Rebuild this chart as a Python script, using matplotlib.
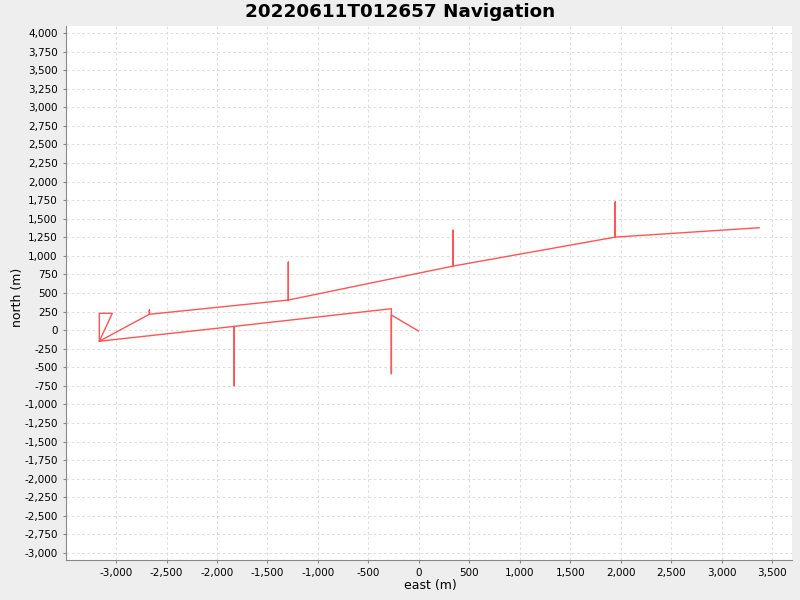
import matplotlib
matplotlib.use("Agg")
import matplotlib.pyplot as plt
from matplotlib.ticker import MultipleLocator, FuncFormatter

# track points (east, north) in metres
east = [-3, -272, -272, -272, -1829, -1829, -1829, -3166, -3166, -3037, -3166,
        -2670, -2670, -2670, -1293, -1293, -1293, 340, 340, 340,
        1946, 1946, 1946, 3372]
north = [-12, 203, -587, 288, 50, -748, 50, -150, 226, 226, -150,
         213, 270, 213, 405, 916, 405, 862, 1345, 862,
         1252, 1725, 1252, 1378]

title = "20220611T012657 Navigation"

fig = plt.figure(figsize=(8, 6), dpi=100, facecolor="#eeeeee")
ax = fig.add_axes([66 / 800, 1 - 560 / 600, (792 - 66) / 800, (560 - 26) / 600])
ax.set_facecolor("white")

ax.plot(east, north, color="#ff5555", linewidth=1.0)

ax.set_xlim(-3496, 3698)
ax.set_ylim(-3095, 4094)
ax.xaxis.set_major_locator(MultipleLocator(500))
ax.yaxis.set_major_locator(MultipleLocator(250))
fmt = FuncFormatter(lambda v, p: f"{v:,.0f}")
ax.xaxis.set_major_formatter(fmt)
ax.yaxis.set_major_formatter(fmt)

ax.grid(True, color="#dedede", linestyle=(0, (2.5, 2.5)), linewidth=0.75)
ax.set_axisbelow(True)
for s in ["top", "right"]:
    ax.spines[s].set_visible(False)
for s in ["left", "bottom"]:
    ax.spines[s].set_color("#888888")
ax.tick_params(colors="#888888", labelcolor="black", labelsize=7.5, length=2.5, width=0.8)

ax.set_xlabel("east (m)", fontsize=9)
ax.set_ylabel("north (m)", fontsize=9)
ax.xaxis.set_label_coords((430 - 66) / 726, (560 - 579) / 534)
ax.yaxis.set_label_coords((24 - 66) / 726, (560 - 297) / 534)
fig.text(0.5, 1 - 12 / 600, title, ha="center", va="center", fontsize=13.2, fontweight="bold")

fig.savefig("out.png", dpi=100, facecolor=fig.get_facecolor())
